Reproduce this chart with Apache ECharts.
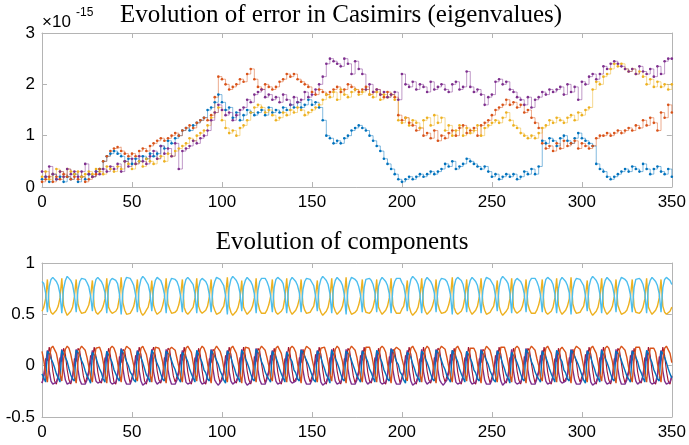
<!DOCTYPE html>
<html><head><meta charset="utf-8">
<script src="https://cdn.jsdelivr.net/npm/echarts@6/dist/echarts.min.js"></script>
<style>html,body{margin:0;padding:0;background:#fff}#c{width:689px;height:445px}</style>
</head><body><div id="c"></div>
<script>
// ---- Top panel: error in Casimirs (units of 1e-15), one value every 2 time units from t=0 to t=350
const errStep = 2;
const errBlue = [
0.15,0.2,0.1,0.25,0.15,0.2,0.1,0.2,0.15,0.25,
0.1,0.2,0.15,0.25,0.2,0.3,0.35,0.5,0.6,0.65,
0.7,0.65,0.6,0.5,0.55,0.45,0.55,0.5,0.6,0.55,
0.65,0.6,0.65,0.8,0.75,0.9,0.85,0.95,1.0,1.1,
1.15,1.1,1.2,1.25,1.3,1.35,1.5,1.55,1.65,1.8,
1.65,1.5,1.55,1.35,1.45,1.3,1.4,1.5,1.45,1.4,
1.45,1.5,1.4,1.55,1.45,1.5,1.45,1.55,1.5,1.6,
1.55,1.65,1.55,1.6,1.7,1.6,1.65,1.55,1.3,1.0,
0.95,0.85,0.9,0.85,0.95,1.0,1.1,1.15,1.2,1.15,
1.1,1.0,0.9,0.8,0.7,0.55,0.45,0.35,0.25,0.15,
0.1,0.15,0.2,0.15,0.2,0.25,0.2,0.25,0.3,0.25,
0.3,0.35,0.45,0.4,0.5,0.35,0.4,0.45,0.55,0.5,
0.45,0.4,0.35,0.4,0.3,0.2,0.25,0.15,0.2,0.25,
0.2,0.25,0.15,0.2,0.3,0.25,0.35,0.25,0.4,0.9,
0.85,0.95,0.9,0.8,0.95,1.0,0.9,0.85,0.95,1.05,
0.95,0.9,0.85,0.8,0.45,0.35,0.3,0.2,0.15,0.2,
0.25,0.3,0.35,0.3,0.4,0.35,0.3,0.45,0.35,0.25,
0.35,0.4,0.3,0.25,0.35,0.2];
const errOrange = [
0.1,0.15,0.2,0.1,0.2,0.15,0.25,0.2,0.15,0.2,
0.15,0.2,0.1,0.15,0.2,0.25,0.35,0.5,0.6,0.7,
0.75,0.78,0.7,0.65,0.6,0.65,0.6,0.7,0.75,0.7,
0.8,0.85,0.9,0.95,0.9,0.95,1.0,1.05,1.0,1.1,
1.15,1.2,1.15,1.25,1.3,1.35,1.3,1.4,1.75,2.15,
2.1,2.0,1.9,1.95,2.0,2.1,2.05,2.2,2.3,2.1,
1.95,1.9,2.0,1.95,1.9,1.95,2.05,2.1,2.2,2.15,
2.2,2.1,2.05,2.0,1.95,1.85,1.8,1.9,1.85,1.8,
1.85,1.9,1.95,1.85,1.9,2.0,1.95,1.9,1.85,1.9,
1.95,1.8,1.85,1.9,1.8,1.75,1.85,1.8,1.75,1.4,
1.3,1.35,1.25,1.2,1.1,1.15,1.0,1.05,0.95,1.1,
0.9,1.0,0.95,1.05,1.1,1.0,1.15,1.2,1.05,1.1,
1.15,1.0,1.2,1.25,1.3,1.4,1.5,1.55,1.6,1.7,
1.6,1.65,1.55,1.6,1.45,1.5,1.35,1.25,1.15,0.85,
0.75,0.8,0.7,0.85,0.75,0.9,0.8,0.85,0.9,0.75,
0.85,0.8,0.75,0.8,0.95,1.0,1.0,1.05,1.0,1.05,
1.1,1.05,1.1,1.15,1.1,1.2,1.15,1.3,1.2,1.35,
1.25,1.1,1.45,1.35,1.6,1.45];
const errYellow = [
0.2,0.3,0.15,0.25,0.35,0.3,0.2,0.35,0.3,0.25,
0.3,0.2,0.25,0.3,0.25,0.35,0.3,0.25,0.4,0.35,
0.3,0.4,0.35,0.5,0.45,0.35,0.45,0.5,0.4,0.55,
0.5,0.45,0.55,0.6,0.5,0.65,0.6,0.7,0.75,0.8,
0.85,0.95,0.9,1.0,1.05,1.1,1.2,1.35,1.45,1.55,
1.3,1.15,1.05,1.1,1.0,1.15,1.2,1.3,1.45,1.55,
1.6,1.55,1.45,1.5,1.4,1.3,1.35,1.45,1.4,1.5,
1.45,1.55,1.5,1.4,1.45,1.5,1.55,1.6,1.7,1.8,
1.75,1.85,1.7,1.9,1.8,1.75,1.85,1.9,1.8,1.85,
1.9,1.8,1.75,1.85,1.7,1.8,1.75,1.8,1.7,1.3,
1.25,1.35,1.2,1.3,1.25,1.15,1.3,1.35,1.2,1.4,
1.25,1.35,1.1,1.2,1.0,1.1,1.2,1.0,1.15,1.05,
1.1,1.2,1.0,1.15,1.2,1.25,1.3,1.25,1.35,1.45,
1.3,1.2,1.15,1.05,1.0,0.95,1.0,0.95,1.05,1.15,
1.2,1.3,1.25,1.35,1.3,1.25,1.35,1.4,1.3,1.45,
1.4,1.5,1.55,1.9,2.05,2.0,2.15,2.2,2.3,2.4,
2.35,2.4,2.3,2.25,2.3,2.2,2.25,2.15,2.0,2.1,
1.95,2.05,1.95,2.0,1.9,2.0];
const errPurple = [
0.3,0.2,0.4,0.25,0.15,0.3,0.2,0.35,0.25,0.3,
0.2,0.3,0.45,0.25,0.2,0.3,0.25,0.35,0.3,0.4,
0.35,0.45,0.3,0.5,0.4,0.55,0.45,0.6,0.5,0.45,
0.6,0.7,0.55,0.8,0.65,0.75,0.6,0.85,0.35,0.7,
0.75,0.8,0.9,0.85,0.95,1.0,1.1,1.3,1.45,1.6,
1.5,1.4,1.45,1.3,1.4,1.5,1.55,1.7,1.65,1.8,
1.85,1.9,1.75,1.8,1.7,1.75,1.65,1.8,1.7,1.6,
1.75,1.65,1.7,1.85,1.75,1.8,1.9,2.0,2.15,2.4,
2.5,2.45,2.4,2.35,2.5,2.4,2.2,2.45,2.3,2.2,
1.9,2.0,1.85,1.9,1.8,1.85,1.75,1.8,1.85,1.7,
2.2,2.0,1.95,2.05,1.9,2.0,1.95,1.85,2.05,1.9,
1.95,2.0,1.9,1.85,2.0,2.05,1.9,1.95,2.25,1.95,
1.85,1.9,1.8,1.6,1.75,1.8,2.05,2.1,2.0,2.05,
1.9,1.85,1.75,1.7,1.6,1.75,1.55,1.7,1.75,1.85,
1.8,1.9,1.85,1.9,1.95,1.8,2.0,1.85,1.95,1.7,
2.05,2.0,2.15,2.2,2.1,2.2,2.35,2.3,2.4,2.45,
2.4,2.35,2.3,2.25,2.3,2.2,2.35,2.25,2.2,2.3,
2.15,2.35,2.2,2.45,2.5,2.5];

// ---- Bottom panel: components, one value per time unit from t=0 to t=350
const compStep = 1;
const compCyan = [
0.82,0.80,0.71,
0.52,0.77,0.84,0.86,0.85,0.82,0.78,0.70,
0.51,0.75,0.83,0.87,0.85,0.83,0.79,0.69,
0.52,0.74,0.82,0.85,0.86,0.84,0.81,0.77,0.68,
0.53,0.76,0.84,0.86,0.84,0.82,0.78,0.71,
0.51,0.77,0.83,0.85,0.86,0.83,0.80,0.70,
0.50,0.73,0.82,0.86,0.86,0.85,0.82,0.78,0.69,
0.52,0.76,0.84,0.87,0.85,0.82,0.79,0.71,
0.53,0.75,0.83,0.86,0.85,0.83,0.78,0.70,
0.51,0.74,0.81,0.85,0.86,0.84,0.82,0.77,0.68,
0.52,0.77,0.84,0.86,0.84,0.83,0.79,0.70,
0.51,0.76,0.83,0.85,0.85,0.82,0.78,0.69,
0.52,0.75,0.82,0.86,0.86,0.84,0.81,0.78,0.68,
0.50,0.76,0.84,0.87,0.85,0.83,0.79,0.71,
0.53,0.77,0.83,0.86,0.84,0.82,0.78,0.70,
0.51,0.73,0.82,0.85,0.86,0.85,0.82,0.77,0.69,
0.52,0.76,0.84,0.86,0.85,0.83,0.80,0.70,
0.51,0.75,0.83,0.86,0.85,0.82,0.78,0.71,
0.52,0.74,0.82,0.85,0.86,0.84,0.81,0.78,0.68,
0.53,0.77,0.84,0.87,0.85,0.83,0.79,0.70,
0.51,0.76,0.83,0.86,0.84,0.82,0.78,0.69,
0.50,0.74,0.82,0.86,0.86,0.84,0.82,0.77,0.69,
0.52,0.76,0.84,0.85,0.85,0.83,0.79,0.71,
0.52,0.77,0.83,0.86,0.85,0.82,0.78,0.70,
0.51,0.75,0.82,0.85,0.86,0.85,0.81,0.78,0.68,
0.53,0.76,0.84,0.87,0.85,0.83,0.79,0.70,
0.51,0.75,0.83,0.86,0.84,0.82,0.78,0.71,
0.52,0.74,0.82,0.85,0.86,0.84,0.82,0.77,0.69,
0.50,0.77,0.84,0.86,0.85,0.83,0.79,0.70,
0.52,0.76,0.83,0.86,0.85,0.82,0.78,0.69,
0.51,0.73,0.82,0.86,0.86,0.84,0.81,0.78,0.68,
0.53,0.76,0.84,0.87,0.85,0.83,0.80,0.71,
0.51,0.77,0.83,0.85,0.84,0.82,0.78,0.70,
0.52,0.74,0.82,0.85,0.86,0.85,0.82,0.77,0.69,
0.52,0.76,0.84,0.86,0.85,0.83,0.79,0.70,
0.51,0.75,0.83,0.86,0.85,0.82,0.78,0.71,
0.50,0.74,0.82,0.85,0.86,0.84,0.81,0.78,0.68,
0.53,0.77,0.84,0.87,0.85,0.83,0.79,0.70,
0.51,0.76,0.83,0.86,0.84,0.82,0.78,0.69,
0.52,0.75,0.82,0.86,0.86,0.84,0.82,0.77,0.69,
0.52,0.76,0.84,0.85,0.85,0.83,0.79,0.71,
0.51,0.77,0.83,0.86,0.85,0.82,0.78,0.70,
0.52,0.76,0.84,0.86,0.85,0.83,0.79];
const compYellow = [
0.53,0.57,0.65,
0.84,0.58,0.52,0.50,0.51,0.54,0.58,0.66,
0.85,0.59,0.53,0.49,0.51,0.53,0.57,0.67,
0.84,0.60,0.54,0.51,0.50,0.52,0.55,0.59,0.68,
0.83,0.58,0.52,0.50,0.52,0.54,0.58,0.65,
0.85,0.57,0.53,0.51,0.50,0.53,0.56,0.66,
0.86,0.61,0.54,0.50,0.50,0.51,0.54,0.58,0.67,
0.84,0.58,0.52,0.49,0.51,0.54,0.57,0.65,
0.83,0.59,0.53,0.50,0.51,0.53,0.58,0.66,
0.85,0.60,0.55,0.51,0.50,0.52,0.54,0.59,0.68,
0.84,0.57,0.52,0.50,0.52,0.53,0.57,0.66,
0.85,0.58,0.53,0.51,0.51,0.54,0.58,0.67,
0.84,0.59,0.54,0.50,0.50,0.52,0.55,0.58,0.68,
0.86,0.58,0.52,0.49,0.51,0.53,0.57,0.65,
0.83,0.57,0.53,0.50,0.52,0.54,0.58,0.66,
0.85,0.61,0.54,0.51,0.50,0.51,0.54,0.59,0.67,
0.84,0.58,0.52,0.50,0.51,0.53,0.56,0.66,
0.85,0.59,0.53,0.50,0.51,0.54,0.58,0.65,
0.84,0.60,0.54,0.51,0.50,0.52,0.55,0.58,0.68,
0.83,0.57,0.52,0.49,0.51,0.53,0.57,0.66,
0.85,0.58,0.53,0.50,0.52,0.54,0.58,0.67,
0.86,0.60,0.54,0.50,0.50,0.52,0.54,0.59,0.67,
0.84,0.58,0.52,0.51,0.51,0.53,0.57,0.65,
0.84,0.57,0.53,0.50,0.51,0.54,0.58,0.66,
0.85,0.59,0.54,0.51,0.50,0.51,0.55,0.58,0.68,
0.83,0.58,0.52,0.49,0.51,0.53,0.57,0.66,
0.85,0.59,0.53,0.50,0.52,0.54,0.58,0.65,
0.84,0.60,0.54,0.51,0.50,0.52,0.54,0.59,0.67,
0.86,0.57,0.52,0.50,0.51,0.53,0.57,0.66,
0.84,0.58,0.53,0.50,0.51,0.54,0.58,0.67,
0.85,0.61,0.54,0.50,0.50,0.52,0.55,0.58,0.68,
0.83,0.58,0.52,0.49,0.51,0.53,0.56,0.65,
0.85,0.57,0.53,0.51,0.52,0.54,0.58,0.66,
0.84,0.60,0.54,0.51,0.50,0.51,0.54,0.59,0.67,
0.84,0.58,0.52,0.50,0.51,0.53,0.57,0.66,
0.85,0.59,0.53,0.50,0.51,0.54,0.58,0.65,
0.86,0.60,0.54,0.51,0.50,0.52,0.55,0.58,0.68,
0.83,0.57,0.52,0.49,0.51,0.53,0.57,0.66,
0.85,0.58,0.53,0.50,0.52,0.54,0.58,0.67,
0.84,0.59,0.54,0.50,0.50,0.52,0.54,0.59,0.67,
0.84,0.58,0.52,0.51,0.51,0.53,0.57,0.65,
0.85,0.57,0.53,0.50,0.51,0.54,0.58,0.66,
0.84,0.58,0.52,0.50,0.51,0.53,0.57];
const compBlue = [
-0.08,-0.12,-0.16,
0.14,0.12,0.07,0.03,-0.02,-0.08,-0.12,-0.16,
0.15,0.11,0.08,0.04,-0.03,-0.09,-0.13,-0.15,
0.15,0.13,0.10,0.05,0.01,-0.05,-0.10,-0.13,-0.17,
0.13,0.12,0.08,0.02,-0.03,-0.07,-0.13,-0.16,
0.14,0.13,0.07,0.03,-0.04,-0.08,-0.12,-0.15,
0.16,0.13,0.09,0.04,0.00,-0.06,-0.09,-0.14,-0.16,
0.14,0.11,0.08,0.03,-0.03,-0.09,-0.12,-0.16,
0.15,0.12,0.07,0.02,-0.02,-0.08,-0.13,-0.15,
0.14,0.13,0.10,0.05,0.00,-0.04,-0.10,-0.13,-0.16,
0.13,0.12,0.08,0.04,-0.03,-0.08,-0.12,-0.16,
0.15,0.11,0.07,0.03,-0.04,-0.07,-0.13,-0.15,
0.15,0.14,0.09,0.05,0.01,-0.05,-0.09,-0.14,-0.17,
0.14,0.12,0.08,0.02,-0.03,-0.09,-0.12,-0.16,
0.15,0.12,0.07,0.03,-0.02,-0.08,-0.13,-0.15,
0.16,0.13,0.10,0.04,0.00,-0.06,-0.10,-0.13,-0.16,
0.14,0.11,0.08,0.03,-0.03,-0.08,-0.12,-0.16,
0.13,0.12,0.07,0.04,-0.04,-0.07,-0.13,-0.15,
0.15,0.13,0.09,0.05,0.01,-0.04,-0.09,-0.14,-0.16,
0.14,0.12,0.08,0.02,-0.03,-0.09,-0.12,-0.17,
0.15,0.11,0.07,0.03,-0.02,-0.08,-0.13,-0.15,
0.14,0.13,0.10,0.05,0.00,-0.05,-0.10,-0.13,-0.16,
0.14,0.12,0.08,0.04,-0.03,-0.07,-0.12,-0.16,
0.15,0.12,0.07,0.03,-0.04,-0.08,-0.13,-0.15,
0.16,0.14,0.09,0.04,0.01,-0.06,-0.09,-0.14,-0.17,
0.13,0.11,0.08,0.02,-0.03,-0.09,-0.12,-0.16,
0.14,0.12,0.07,0.03,-0.02,-0.08,-0.13,-0.15,
0.15,0.13,0.10,0.05,0.00,-0.04,-0.10,-0.13,-0.16,
0.15,0.12,0.08,0.04,-0.03,-0.08,-0.12,-0.16,
0.14,0.11,0.07,0.03,-0.04,-0.07,-0.13,-0.15,
0.15,0.14,0.09,0.05,0.01,-0.05,-0.09,-0.14,-0.16,
0.14,0.12,0.08,0.02,-0.03,-0.09,-0.12,-0.17,
0.13,0.12,0.07,0.03,-0.02,-0.08,-0.13,-0.15,
0.16,0.13,0.10,0.04,0.00,-0.06,-0.10,-0.13,-0.16,
0.14,0.11,0.08,0.03,-0.03,-0.08,-0.12,-0.16,
0.15,0.12,0.07,0.04,-0.04,-0.07,-0.13,-0.15,
0.15,0.13,0.09,0.05,0.01,-0.04,-0.09,-0.14,-0.17,
0.14,0.12,0.08,0.02,-0.03,-0.09,-0.12,-0.16,
0.15,0.11,0.07,0.03,-0.02,-0.08,-0.13,-0.15,
0.14,0.13,0.10,0.05,0.00,-0.05,-0.10,-0.13,-0.16,
0.14,0.12,0.08,0.04,-0.03,-0.07,-0.12,-0.16,
0.15,0.12,0.07,0.03,-0.04,-0.08,-0.13,-0.15,
0.14,0.12,0.08,0.03,-0.03,-0.08,-0.12];
const compOrange = [
0.14,0.05,-0.07,
-0.16,0.05,0.17,0.19,0.18,0.12,0.03,-0.08,
-0.15,0.06,0.16,0.19,0.17,0.11,0.02,-0.09,
-0.17,0.04,0.16,0.19,0.19,0.15,0.08,-0.01,-0.10,
-0.16,0.05,0.17,0.18,0.18,0.13,0.04,-0.07,
-0.17,0.04,0.17,0.19,0.17,0.12,0.03,-0.08,
-0.16,0.03,0.15,0.19,0.19,0.16,0.08,0.00,-0.11,
-0.15,0.05,0.17,0.19,0.18,0.11,0.02,-0.08,
-0.16,0.06,0.18,0.19,0.17,0.12,0.04,-0.09,
-0.17,0.04,0.16,0.18,0.19,0.15,0.07,-0.01,-0.10,
-0.16,0.05,0.17,0.19,0.18,0.13,0.03,-0.07,
-0.15,0.05,0.16,0.19,0.17,0.12,0.02,-0.08,
-0.17,0.04,0.16,0.19,0.19,0.14,0.08,-0.02,-0.10,
-0.16,0.06,0.17,0.19,0.18,0.12,0.03,-0.08,
-0.17,0.05,0.18,0.18,0.17,0.11,0.04,-0.09,
-0.16,0.03,0.16,0.19,0.19,0.15,0.08,0.00,-0.11,
-0.15,0.05,0.17,0.19,0.18,0.12,0.03,-0.08,
-0.16,0.04,0.17,0.19,0.17,0.13,0.02,-0.07,
-0.17,0.04,0.15,0.19,0.19,0.16,0.07,-0.01,-0.10,
-0.16,0.06,0.17,0.18,0.18,0.12,0.03,-0.08,
-0.15,0.05,0.16,0.19,0.17,0.11,0.04,-0.09,
-0.17,0.04,0.16,0.19,0.19,0.15,0.08,-0.02,-0.10,
-0.16,0.05,0.18,0.19,0.18,0.12,0.03,-0.08,
-0.16,0.05,0.17,0.19,0.17,0.13,0.02,-0.07,
-0.17,0.03,0.16,0.18,0.19,0.15,0.07,0.00,-0.11,
-0.15,0.06,0.17,0.19,0.18,0.12,0.03,-0.08,
-0.16,0.05,0.16,0.19,0.17,0.11,0.04,-0.09,
-0.17,0.04,0.16,0.19,0.19,0.16,0.08,-0.01,-0.10,
-0.16,0.05,0.17,0.19,0.18,0.12,0.03,-0.07,
-0.15,0.04,0.17,0.18,0.17,0.13,0.02,-0.08,
-0.17,0.04,0.15,0.19,0.19,0.15,0.08,-0.02,-0.10,
-0.16,0.06,0.18,0.19,0.18,0.12,0.03,-0.08,
-0.16,0.05,0.17,0.19,0.17,0.11,0.04,-0.09,
-0.17,0.03,0.16,0.19,0.19,0.15,0.07,0.00,-0.11,
-0.15,0.05,0.17,0.19,0.18,0.12,0.03,-0.08,
-0.16,0.05,0.16,0.18,0.17,0.13,0.02,-0.07,
-0.17,0.04,0.16,0.19,0.19,0.16,0.08,-0.01,-0.10,
-0.16,0.06,0.17,0.19,0.18,0.12,0.03,-0.08,
-0.15,0.05,0.17,0.19,0.17,0.11,0.04,-0.09,
-0.17,0.04,0.16,0.19,0.19,0.15,0.08,-0.02,-0.10,
-0.16,0.05,0.18,0.19,0.18,0.12,0.03,-0.08,
-0.16,0.04,0.17,0.18,0.17,0.13,0.02,-0.07,
-0.16,0.05,0.17,0.19,0.18,0.12,0.03];
const compPurple = [
-0.17,-0.11,0.01,
0.15,-0.05,-0.15,-0.18,-0.18,-0.16,-0.10,0.02,
0.16,-0.04,-0.14,-0.18,-0.19,-0.16,-0.11,0.01,
0.16,-0.04,-0.14,-0.18,-0.19,-0.18,-0.14,-0.07,0.04,
0.15,-0.06,-0.15,-0.17,-0.18,-0.15,-0.10,0.03,
0.14,-0.05,-0.16,-0.18,-0.18,-0.16,-0.09,0.02,
0.17,-0.03,-0.14,-0.18,-0.19,-0.18,-0.13,-0.06,0.05,
0.15,-0.05,-0.15,-0.19,-0.18,-0.16,-0.10,0.01,
0.16,-0.06,-0.15,-0.18,-0.17,-0.15,-0.11,0.02,
0.16,-0.04,-0.13,-0.18,-0.19,-0.18,-0.14,-0.07,0.04,
0.15,-0.05,-0.16,-0.18,-0.18,-0.16,-0.10,0.03,
0.14,-0.05,-0.15,-0.18,-0.19,-0.16,-0.09,0.02,
0.16,-0.03,-0.14,-0.17,-0.19,-0.18,-0.14,-0.06,0.04,
0.15,-0.06,-0.15,-0.18,-0.18,-0.15,-0.10,0.01,
0.16,-0.05,-0.16,-0.19,-0.18,-0.16,-0.11,0.02,
0.17,-0.04,-0.14,-0.18,-0.19,-0.18,-0.13,-0.07,0.05,
0.15,-0.05,-0.15,-0.18,-0.18,-0.16,-0.10,0.02,
0.14,-0.06,-0.15,-0.17,-0.18,-0.15,-0.09,0.03,
0.16,-0.04,-0.14,-0.18,-0.19,-0.18,-0.14,-0.06,0.04,
0.15,-0.05,-0.16,-0.19,-0.18,-0.16,-0.10,0.01,
0.16,-0.05,-0.15,-0.18,-0.19,-0.16,-0.11,0.02,
0.16,-0.03,-0.13,-0.18,-0.19,-0.18,-0.14,-0.07,0.04,
0.15,-0.06,-0.15,-0.18,-0.18,-0.15,-0.10,0.02,
0.14,-0.05,-0.16,-0.18,-0.17,-0.16,-0.09,0.03,
0.17,-0.04,-0.14,-0.18,-0.19,-0.18,-0.13,-0.06,0.05,
0.15,-0.05,-0.15,-0.19,-0.18,-0.16,-0.10,0.01,
0.16,-0.06,-0.15,-0.18,-0.19,-0.15,-0.11,0.02,
0.16,-0.04,-0.14,-0.17,-0.19,-0.18,-0.14,-0.07,0.04,
0.15,-0.05,-0.16,-0.18,-0.18,-0.16,-0.10,0.03,
0.14,-0.05,-0.15,-0.18,-0.18,-0.16,-0.09,0.02,
0.16,-0.03,-0.14,-0.18,-0.19,-0.18,-0.14,-0.06,0.04,
0.15,-0.06,-0.15,-0.19,-0.18,-0.15,-0.10,0.01,
0.16,-0.05,-0.16,-0.18,-0.17,-0.16,-0.11,0.02,
0.17,-0.04,-0.14,-0.18,-0.19,-0.18,-0.13,-0.07,0.05,
0.15,-0.05,-0.15,-0.18,-0.18,-0.16,-0.10,0.02,
0.14,-0.06,-0.15,-0.17,-0.18,-0.15,-0.09,0.03,
0.16,-0.04,-0.14,-0.18,-0.19,-0.18,-0.14,-0.06,0.04,
0.15,-0.05,-0.16,-0.19,-0.18,-0.16,-0.10,0.01,
0.16,-0.05,-0.15,-0.18,-0.19,-0.16,-0.11,0.02,
0.16,-0.03,-0.13,-0.18,-0.19,-0.18,-0.14,-0.07,0.04,
0.15,-0.06,-0.15,-0.18,-0.18,-0.15,-0.10,0.02,
0.14,-0.05,-0.16,-0.18,-0.17,-0.16,-0.09,0.03,
0.15,-0.05,-0.15,-0.18,-0.18,-0.16,-0.10];
const compRed = [
-0.17,-0.09,0.07,
0.05,0.18,0.10,-0.05,-0.15,-0.18,-0.10,0.08,
0.04,0.17,0.11,-0.04,-0.14,-0.18,-0.11,0.07,
0.04,0.17,0.14,0.02,-0.10,-0.17,-0.16,-0.05,0.10,
0.06,0.18,0.09,-0.06,-0.15,-0.17,-0.09,0.08,
0.05,0.17,0.10,-0.05,-0.16,-0.18,-0.10,0.09,
0.03,0.16,0.14,0.03,-0.09,-0.17,-0.17,-0.06,0.10,
0.05,0.18,0.11,-0.04,-0.15,-0.18,-0.10,0.07,
0.06,0.18,0.10,-0.05,-0.14,-0.17,-0.11,0.08,
0.04,0.17,0.15,0.02,-0.10,-0.16,-0.16,-0.05,0.11,
0.05,0.18,0.09,-0.06,-0.15,-0.18,-0.09,0.08,
0.04,0.17,0.10,-0.05,-0.16,-0.18,-0.10,0.07,
0.03,0.16,0.14,0.03,-0.10,-0.17,-0.16,-0.06,0.10,
0.05,0.18,0.11,-0.04,-0.15,-0.17,-0.10,0.08,
0.06,0.18,0.10,-0.05,-0.14,-0.18,-0.11,0.09,
0.04,0.17,0.14,0.02,-0.09,-0.17,-0.17,-0.05,0.10,
0.05,0.17,0.09,-0.06,-0.15,-0.18,-0.09,0.07,
0.05,0.18,0.10,-0.05,-0.16,-0.17,-0.10,0.08,
0.03,0.16,0.15,0.03,-0.10,-0.16,-0.16,-0.06,0.11,
0.04,0.18,0.11,-0.04,-0.15,-0.18,-0.10,0.08,
0.06,0.17,0.10,-0.05,-0.14,-0.18,-0.11,0.07,
0.04,0.17,0.14,0.02,-0.10,-0.17,-0.16,-0.05,0.10,
0.05,0.18,0.09,-0.06,-0.15,-0.17,-0.09,0.08,
0.05,0.17,0.10,-0.05,-0.16,-0.18,-0.10,0.09,
0.03,0.16,0.14,0.03,-0.09,-0.17,-0.17,-0.06,0.10,
0.06,0.18,0.11,-0.04,-0.15,-0.18,-0.10,0.07,
0.04,0.18,0.10,-0.05,-0.14,-0.17,-0.11,0.08,
0.04,0.17,0.15,0.02,-0.10,-0.16,-0.16,-0.05,0.11,
0.05,0.17,0.09,-0.06,-0.15,-0.18,-0.09,0.08,
0.05,0.18,0.10,-0.05,-0.16,-0.18,-0.10,0.07,
0.03,0.16,0.14,0.03,-0.10,-0.17,-0.16,-0.06,0.10,
0.05,0.18,0.11,-0.04,-0.15,-0.17,-0.10,0.08,
0.06,0.17,0.10,-0.05,-0.14,-0.18,-0.11,0.09,
0.04,0.17,0.14,0.02,-0.09,-0.17,-0.17,-0.05,0.10,
0.05,0.18,0.09,-0.06,-0.15,-0.18,-0.09,0.07,
0.04,0.17,0.10,-0.05,-0.16,-0.17,-0.10,0.08,
0.03,0.16,0.15,0.03,-0.10,-0.16,-0.16,-0.06,0.11,
0.05,0.18,0.11,-0.04,-0.15,-0.18,-0.10,0.08,
0.06,0.18,0.10,-0.05,-0.14,-0.18,-0.11,0.07,
0.04,0.17,0.14,0.02,-0.10,-0.17,-0.16,-0.05,0.10,
0.05,0.17,0.09,-0.06,-0.15,-0.17,-0.09,0.08,
0.05,0.18,0.10,-0.05,-0.16,-0.18,-0.10,0.09,
0.05,0.18,0.10,-0.05,-0.15,-0.18,-0.10];

const xTicks = {min:0, max:350, interval:50};
const errTicks = {min:0, max:3, interval:1};
const compTicks = {min:-0.5, max:1, interval:0.5};

const C = {blue:'#0072BD', orange:'#D95319', yellow:'#EDB120', purple:'#7E2F8E', cyan:'#4DBEEE', red:'#A2142F'};
const axisGray = '#b4b4b4';
const labelFont = {color:'#000', fontSize:17, fontFamily:'Liberation Sans, Arial, sans-serif'};

function toPairs(arr, step){ return arr.map((v,i)=>[i*step, v]); }

function xAx(grid, pos, labels){
  return {gridIndex:grid, type:'value', position:pos, min:xTicks.min, max:xTicks.max, interval:xTicks.interval,
    axisLine:{show:true, onZero:false, lineStyle:{color:axisGray, width:1}},
    axisTick:{show:true, inside:true, length:5, lineStyle:{color:axisGray}},
    axisLabel:Object.assign({show:labels, margin:7}, labelFont),
    splitLine:{show:false}};
}
function yAx(grid, pos, labels, t){
  return {gridIndex:grid, type:'value', position:pos, min:t.min, max:t.max, interval:t.interval,
    axisLine:{show:true, onZero:false, lineStyle:{color:axisGray, width:1}},
    axisTick:{show:true, inside:true, length:5, lineStyle:{color:axisGray}},
    axisLabel:Object.assign({show:labels, margin:7}, labelFont),
    splitLine:{show:false}};
}

function stepSeries(data, color){
  return {type:'line', xAxisIndex:0, yAxisIndex:0, step:'end', data:toPairs(data, errStep),
    showSymbol:true, symbol:'circle', symbolSize:2.6, itemStyle:{color:color},
    lineStyle:{color:color, width:0.9, opacity:0.55}, animation:false, silent:true};
}
function compSeries(data, color, w){
  return {type:'line', xAxisIndex:2, yAxisIndex:2, data:toPairs(data, compStep),
    showSymbol:false, symbol:'none', smooth:false,
    lineStyle:{color:color, width:w}, animation:false, silent:true};
}

const chart = echarts.init(document.getElementById('c'), null, {renderer:'canvas'});
chart.setOption({
  backgroundColor:'#fff',
  animation:false,
  grid:[
    {left:42, right:17, top:33, height:154},
    {left:42, right:17, top:263, height:154}
  ],
  xAxis:[xAx(0,'bottom',true), xAx(0,'top',false), xAx(1,'bottom',true), xAx(1,'top',false)],
  yAxis:[yAx(0,'left',true,errTicks), yAx(0,'right',false,errTicks), yAx(1,'left',true,compTicks), yAx(1,'right',false,compTicks)],
  series:[
    stepSeries(errBlue, C.blue),
    stepSeries(errOrange, C.orange),
    stepSeries(errYellow, C.yellow),
    stepSeries(errPurple, C.purple),
    compSeries(compRed, C.red, 1.1),
    compSeries(compPurple, C.purple, 1.4),
    compSeries(compBlue, C.blue, 1.4),
    compSeries(compOrange, C.orange, 1.4),
    compSeries(compYellow, C.yellow, 1.4),
    compSeries(compCyan, C.cyan, 1.4)
  ],
  graphic:[
    {type:'text', x:341, y:15, style:{text:'Evolution of error in Casimirs (eigenvalues)', font:'25px "Liberation Serif", "DejaVu Serif", serif', fill:'#000', align:'center', verticalAlign:'middle'}},
    {type:'text', x:342, y:242, style:{text:'Evolution of components', font:'25px "Liberation Serif", "DejaVu Serif", serif', fill:'#000', align:'center', verticalAlign:'middle'}},
    {type:'text', x:42, y:22, style:{text:'×10', font:'17px "Liberation Sans", Arial, sans-serif', fill:'#000', align:'left', verticalAlign:'middle'}},
    {type:'text', x:76, y:13, style:{text:'-15', font:'12px "Liberation Sans", Arial, sans-serif', fill:'#000', align:'left', verticalAlign:'middle'}}
  ]
});
</script>
</body></html>
